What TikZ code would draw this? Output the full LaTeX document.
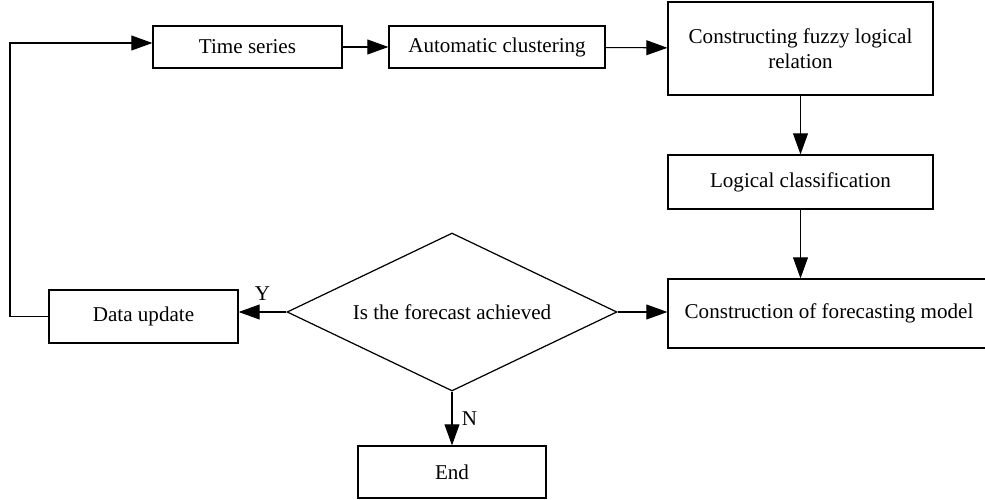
\documentclass[tikz,border=0pt]{standalone}
\usepackage{fontspec}
\setmainfont{Liberation Serif}
\usetikzlibrary{arrows.meta,shapes.geometric,positioning}
\tikzset{
    box/.style={draw, line width=0.7pt, inner sep=0pt, align=center},
    decision/.style={draw, line width=0.7pt, diamond, aspect=2.1, inner sep=0pt,
        minimum width=6.6cm, minimum height=3.16cm},
    flow/.style={line width=0.6pt, -{Triangle[length=12pt,width=8.5pt]}},
    loopline/.style={line width=0.6pt}
}

\begin{document}
\begin{tikzpicture}[x=0.02cm, y=-0.02cm, font=\fontsize{12}{14}\selectfont]
    \useasboundingbox (0,0) rectangle (985,500);
    \clip (0,0) rectangle (985,500);

    % Upper row.
    \node[box, minimum width=3.78cm, minimum height=0.84cm] (ts) at (247.5,47) {Time series};
    \node[box, minimum width=4.32cm, minimum height=0.84cm] (ac) at (497,47) {Automatic clustering};
    \node[box, minimum width=5.3cm, minimum height=1.86cm] (cf) at (800.5,48.5)
        {Constructing fuzzy logical\\relation};

    % Right column.
    \node[box, minimum width=5.3cm, minimum height=1.08cm] (lc) at (800.5,182) {Logical classification};
    \node[box, minimum width=6.44cm, minimum height=1.38cm] (cm) at (829,313.5)
        {Construction of forecasting model};

    % Decision and its outcomes.
    \node[decision] (dm) at (452,312) {Is the forecast achieved};
    \node[box, minimum width=3.78cm, minimum height=1.06cm] (du) at (143.5,316.5) {Data update};
    \node[box, minimum width=3.76cm, minimum height=1.04cm] (end) at (452,472) {End};
    \coordinate (lp) at (10,180);

    % Connectors.
    \draw[flow] (ts) -- (ac);
    \draw[flow] (ac) -- (cf);
    \draw[flow] (cf) -- (lc);
    \draw[flow] (lc) -- (lc |- cm.north);
    \draw[flow] (dm.east) -- (dm.east -| cm.west);
    \draw[flow] (dm.west) -- node[above, yshift=3pt]{Y} (dm.west -| du.east);
    \draw[flow] (dm.south) -- node[right, xshift=2pt]{N} (end.north);
    \draw[loopline] (du.west) -| (lp);
    \draw[flow] (lp) |- ([yshift=0.08cm]ts.west);
\end{tikzpicture}
\end{document}
